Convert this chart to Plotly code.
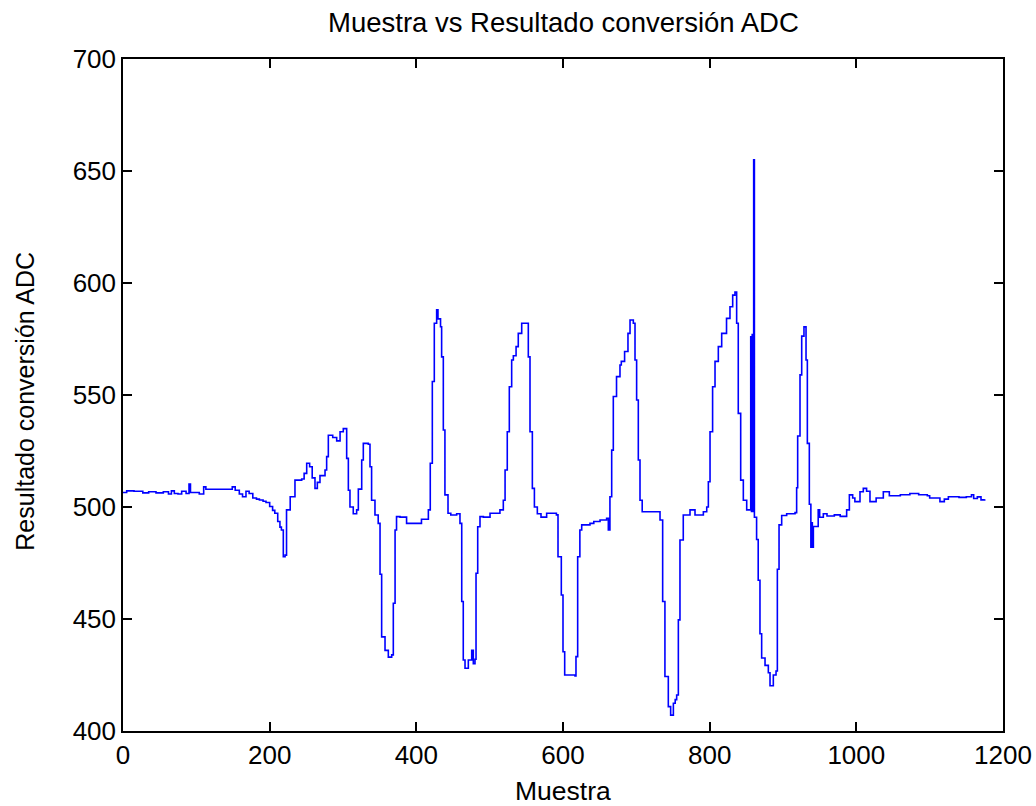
import plotly.graph_objects as go

# Sample index (Muestra) where the ADC reading changes, and the reading held from there on
muestra = [
    0, 5, 15, 27, 35, 45, 55, 62, 66, 70, 75, 80, 86, 90, 92, 100, 104, 110, 113, 146,
    149, 153, 158.6, 163, 167.7, 172, 177, 182, 186, 191, 195, 200, 204, 207, 211, 214, 216,
    218.6, 221, 223, 228, 234.5, 243.7, 247, 250.5, 254.5, 258, 261.8, 265, 268.6, 275.5,
    277.7, 280, 286, 291.4, 296, 300.4, 305, 307.3, 309.5, 314, 318.6, 320.9, 325.5, 327.7,
    334.5, 336.8, 339, 343.6, 348,
    350.5, 352.7, 357.3, 361.8, 366.4, 368.6, 371, 373, 377.7, 386.7, 400.4, 407, 416.4,
    419, 421.8, 424.5, 427.7, 429.5, 433, 434.5, 436.8, 439, 443.2, 447, 455, 459.5,
    461.9, 464, 466.4, 470.9, 475.5, 477.7, 480, 481.4, 483.7, 486.8, 491.4, 500.5, 514,
    518.6, 521, 524, 526.8, 530, 532.3, 536, 539, 543.7, 550.5, 552.7, 555, 558.2, 561,
    565, 570, 577.7, 591,
    593.2, 597.7, 600, 602.3, 609.5, 616.4, 617.7, 620, 623, 625.5, 636.8, 642, 650.5,
    659.5, 661.8, 664, 666.4, 668.6, 673, 677.7, 679.5, 684, 688.6, 691.4, 695.9, 698.2,
    700.4, 702.7, 705, 708, 725, 732.3,
    735.9, 739, 743.6, 746.8, 750.5, 753, 755, 757.3, 759.5, 764, 773.2, 780, 791.4, 796,
    798.2, 800.5, 804, 807.3, 811.8, 816.4, 823, 827.7, 831.4, 834.5, 836.8, 839, 842.3,
    845.9, 850.5, 855,
    856, 857, 858, 859, 860, 861, 864, 866.2, 868.6, 870.9, 875.5, 880, 882.3, 886.8,
    890.5, 892.3, 894.6, 898.2, 905, 916.4, 918.6, 920, 923.2, 925.5, 928.6, 931.4, 933.2,
    935.9, 938, 939, 940, 941.4, 943.6, 948, 950, 955, 960, 970, 978, 986.8, 990.5, 995,
    998, 1005, 1009.5, 1014, 1018.6, 1027, 1036.8, 1045, 1060, 1073, 1085, 1096.8, 1100,
    1114, 1120, 1125.5, 1140, 1150, 1157, 1160, 1165, 1170, 1175,
]

adc = [
    506.5, 507.2, 507, 506.3, 506.8, 506.3, 506.8, 505.8, 507.2, 506, 505.8, 507, 506, 510.3, 506.5, 506.5, 505.8, 509, 507.9, 507.9,
    509, 507.5, 505.8, 504.6, 507, 506, 504, 503.5, 503.1, 502.6, 502, 500.2, 498.5, 497.2, 493.5, 491, 489.7,
    477.8, 478.5, 498.7, 504.6, 512, 512.5, 515, 519.5, 518, 513, 508.3, 511, 514, 516.5,
    522.5, 532, 531, 529.5, 533.6, 535, 521.7, 507.5, 500, 497, 498.7, 508, 521, 528.4,
    528, 518, 503, 496.4, 492.7,
    470, 442, 436, 433, 434, 457, 489.7, 495.7, 495.5, 492.7, 492.7, 494.5, 498.7,
    519.5, 556, 582, 588, 584, 580.5, 567, 534.4, 505.4, 497.2, 496.4, 497, 492.7,
    457.8, 431.7, 428, 431.7, 436, 430, 432, 470.4, 491.2, 495.7, 495.5, 497.2, 498.7,
    503, 516.5, 533.6, 553.7, 565.6, 567.5, 571.6, 577.5, 582, 582, 567, 533.6, 508.3, 500,
    497, 495.5, 497.2, 496.5,
    477.8, 460.7, 435.4, 425, 425, 424.6, 433.2, 477.8, 489.7, 492, 492.7, 493.5, 494.2,
    495, 489.7, 504.6, 525.4, 549.3, 558.2, 563.4, 565, 569.4, 577.5, 583.5, 582, 565.6,
    547.8, 521, 503, 497.9, 497.9, 494.2,
    457.8, 424.3, 410.9, 407.1, 412.4, 414, 416.1, 449.6, 485.3, 496.4, 498.7, 496.4, 497.9, 500,
    511.3, 533.6, 553.7, 565, 571.6, 577.5, 584.2, 589.4, 594.6, 596, 582, 541.8, 512,
    503, 498.7, 498.7,
    576, 498, 577, 498, 655, 495.4, 485.5, 467.3, 443.4, 432.6, 429.3, 426, 420.2, 425,
    426.8, 472.2, 492, 496.2, 497, 497.5, 508.6, 531.7, 559, 576.3, 580.4, 565.6, 528.4,
    501.2, 482, 493, 482, 491.3, 491.3, 498.7, 495.4, 497, 496, 496.5, 495.8, 498.7, 505.4, 504,
    502.4, 506.8, 508.3, 507, 502.4, 504, 506.8, 505, 505.5, 506, 505.5, 505, 504,
    502.4, 503.5, 504.6, 504.3, 504.6, 505.5, 503.8, 504.5, 503.2, 503.5,
]

x_ticks = [0, 200, 400, 600, 800, 1000, 1200]
y_ticks = [400, 450, 500, 550, 600, 650, 700]

FONT = "Liberation Sans, Arial, Helvetica, sans-serif"

fig = go.Figure()
fig.add_trace(go.Scatter(
    x=muestra, y=adc, mode="lines",
    line=dict(color="#0000FF", width=1.6, shape="hv"),
    showlegend=False, hoverinfo="x+y",
))

axis_common = dict(
    showgrid=False, zeroline=False, showline=True, linecolor="black", linewidth=1.5,
    mirror="ticks", ticks="inside", ticklen=9, tickwidth=1.5, tickcolor="black",
    tickfont=dict(family=FONT, size=26, color="black"), ticklabeloverflow="allow",
    automargin=False,
)

fig.update_xaxes(range=[0, 1200], tickvals=x_ticks, ticktext=[str(v) for v in x_ticks], **axis_common)
fig.update_yaxes(range=[400, 700], tickvals=y_ticks, ticktext=[str(v) for v in y_ticks], **axis_common)

fig.update_layout(
    width=1036, height=806, autosize=False,
    margin=dict(l=123, r=33, t=59, b=75),
    paper_bgcolor="white", plot_bgcolor="white",
    font=dict(family=FONT, color="black"),
    annotations=[
        dict(text="Muestra vs Resultado conversión ADC", x=0.5, y=1, xref="paper", yref="paper",
             xanchor="center", yanchor="middle", yshift=37, showarrow=False,
             font=dict(family=FONT, size=27.5, color="black")),
        dict(text="Muestra", x=0.5, y=0, xref="paper", yref="paper",
             xanchor="center", yanchor="middle", yshift=-60, showarrow=False,
             font=dict(family=FONT, size=26.5, color="black")),
        dict(text="Resultado conversión ADC", x=0, y=0.49, xref="paper", yref="paper",
             xanchor="center", yanchor="middle", xshift=-98, textangle=-90, showarrow=False,
             font=dict(family=FONT, size=25, color="black")),
    ],
)

fig.write_html(
    "out.html",
    config={"responsive": False, "displayModeBar": False},
    post_script="document.body.style.margin='0px';document.body.style.overflow='hidden';",
)
